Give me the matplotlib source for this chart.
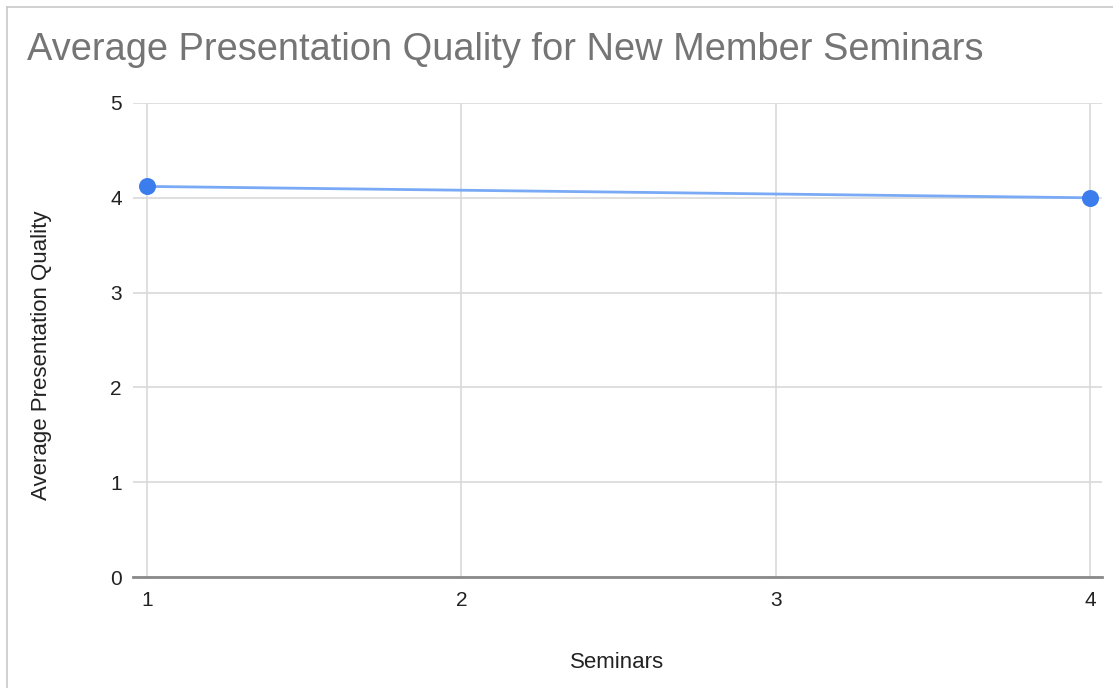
import matplotlib.pyplot as plt
from matplotlib.lines import Line2D

plt.rcParams['font.family'] = ['Liberation Sans', 'DejaVu Sans']

# Données du graphique
seminaires = [1, 4]
qualite_moyenne = [4.12, 4.0]
graduations_x = [1, 2, 3, 4]
graduations_y = [0, 1, 2, 3, 4, 5]

fig = plt.figure(figsize=(11.13, 6.88), dpi=100)
ax = fig.add_axes([0.1195, 0.1613, 0.8705, 0.689])

# Courbe et points
ax.plot(seminaires, qualite_moyenne, color='#7aaaf5', linewidth=2, zorder=3)
ax.scatter(seminaires, qualite_moyenne, s=150, color='#3b7ded', zorder=4, linewidths=0)

ax.set_xlim(0.955, 4.038)
ax.set_ylim(0, 5)
ax.set_xticks(graduations_x)
ax.set_yticks(graduations_y)
ax.grid(True, color='#d9d9d9', linewidth=1.2)
ax.set_axisbelow(True)

for s in ['top', 'right', 'left']:
    ax.spines[s].set_visible(False)
ax.spines['bottom'].set_color('#8a8a8a')
ax.spines['bottom'].set_linewidth(2)

ax.tick_params(length=0, labelsize=15, colors='#222222')
ax.tick_params(axis='y', pad=8)
ax.tick_params(axis='x', pad=10)

ax.set_xlabel('Seminars', fontsize=16, color='#222222', labelpad=30)
ax.set_ylabel('Average Presentation Quality', fontsize=16, color='#222222')
ax.yaxis.set_label_coords(-0.084, 0.468)

fig.text(27 / 1113, 1 - 50 / 688, 'Average Presentation Quality for New Member Seminars',
         fontsize=27.4, color='#757575', va='center', ha='left')

# Cadre gris à gauche et en haut
fig.add_artist(Line2D([7 / 1113, 7 / 1113], [0, 1 - 7 / 688], color='#c8c8c8', linewidth=1.2))
fig.add_artist(Line2D([7 / 1113, 1], [1 - 7 / 688, 1 - 7 / 688], color='#c8c8c8', linewidth=1.2))

fig.savefig('out.png', dpi=100)
